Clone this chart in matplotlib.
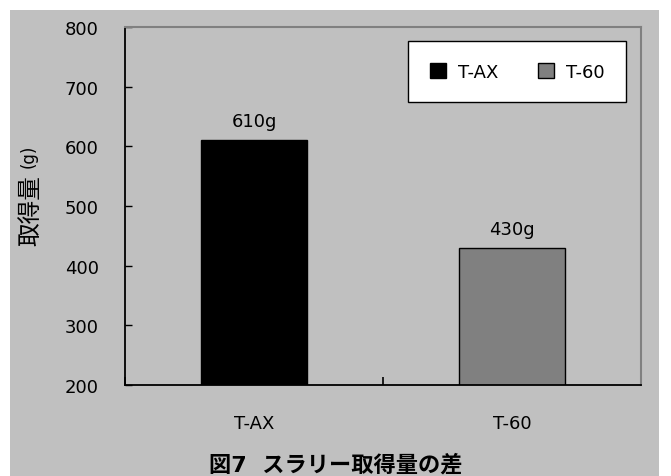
import matplotlib.pyplot as plt
from matplotlib.patches import Rectangle

plt.rcParams['font.family'] = ['DejaVu Sans', 'Noto Sans CJK JP']

categories = ['T-AX', 'T-60']
amounts = [610, 430]
bar_colors = ['#000000', '#808080']
value_labels = ['610g', '430g']
yticks = [200, 300, 400, 500, 600, 700, 800]

W, H = 671, 477
fig = plt.figure(figsize=(W / 100, H / 100), dpi=100)
fig.patch.set_facecolor('white')
# gray panel behind the chart
fig.add_artist(Rectangle((10 / W, 0), 649 / W, 1 - 11 / H,
                         transform=fig.transFigure, facecolor='#C0C0C0',
                         edgecolor='none', zorder=0))

ax = fig.add_axes([125 / W, 1 - 386 / H, 516 / W, 358 / H])
ax.set_facecolor('#C0C0C0')

x = [0.5 + i for i in range(len(categories))]
bars = ax.bar(x, amounts, width=0.41, bottom=0, color=bar_colors,
              edgecolor='black', linewidth=1, zorder=2)
for b, lab in zip(bars, value_labels):
    ax.annotate(lab, (b.get_x() + b.get_width() / 2, b.get_height()),
                xytext=(0, 10), textcoords='offset points',
                ha='center', va='baseline', fontsize=13)

ax.set_xlim(0, 2)
ax.set_ylim(200, 800)
ax.set_yticks(yticks)
ax.tick_params(axis='y', direction='in', length=5, width=1, labelsize=13, pad=19)
ax.set_xticks(x)
ax.set_xticklabels(categories, fontsize=13)
ax.tick_params(axis='x', which='major', length=0, pad=21)
ax.set_xticks([0, 1, 2], minor=True)
ax.tick_params(axis='x', which='minor', direction='in', length=6, width=1.2)

for side in ['left', 'bottom']:
    ax.spines[side].set_color('black')
    ax.spines[side].set_linewidth(1.3)
for side in ['top', 'right']:
    ax.spines[side].set_color('#808080')
    ax.spines[side].set_linewidth(1.5)

# y-axis title: kanji part and the smaller unit
fig.text(30 / W, 1 - 211 / H, '取得量', rotation=90, ha='center', va='center',
         fontsize=17)
fig.text(29 / W, 1 - 156 / H, '(g)', rotation=90, ha='center', va='center',
         fontsize=12)

handles = [Rectangle((0, 0), 1, 1, facecolor=c, edgecolor='black') for c in bar_colors]
leg = ax.legend(handles, categories, ncol=2, loc='upper right',
                bbox_to_anchor=(0.971, 0.961), borderaxespad=0,
                fontsize=13, frameon=True, fancybox=False,
                handlelength=0.9, handleheight=0.9, handletextpad=0.65,
                columnspacing=2.2, borderpad=1.2,
                edgecolor='black', framealpha=1)
leg.get_frame().set_linewidth(1)

fig.text(0.5, 1 - 465 / H, '図7  スラリー取得量の差', ha='center', va='center',
         fontsize=16, fontweight='bold')

fig.savefig('out.png', dpi=100)
